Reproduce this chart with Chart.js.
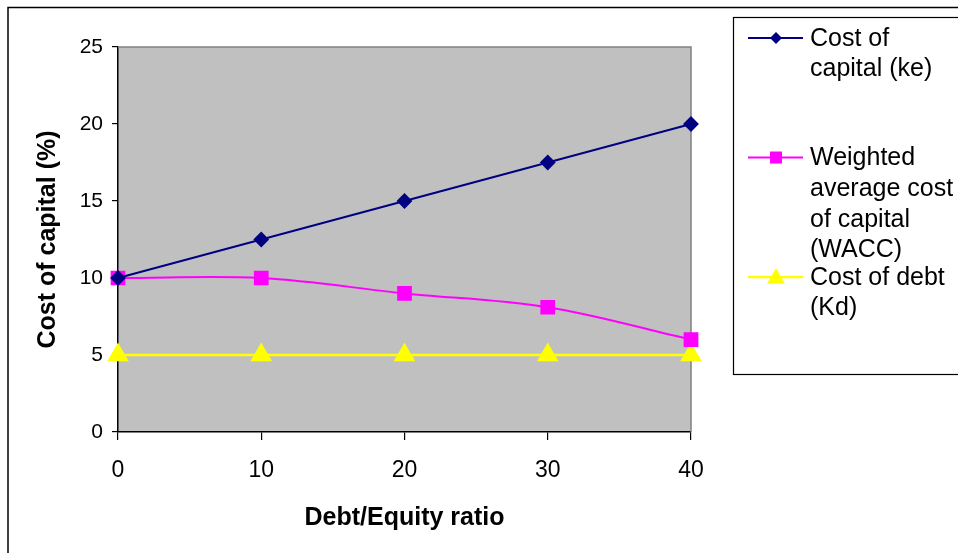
<!DOCTYPE html>
<html lang="en">
<head>
    <meta charset="UTF-8">
    <title>Cost of capital vs Debt/Equity ratio</title>
    <style>
        html, body { margin: 0; padding: 0; background: #fff; }
        #wrap { width: 958px; height: 553px; position: relative; }
    </style>
    <script src="https://cdn.jsdelivr.net/npm/chart.js"></script>
</head>
<body>
    <div id="wrap">
        <canvas id="wacc" width="958" height="553"></canvas>
    </div>

    <script>
        // Data
        const debtEquity = [0, 10, 20, 30, 40];
        const costOfEquity = [10, 12.5, 15, 17.5, 20];
        const wacc = [10, 10, 9, 8.1, 6];
        const costOfDebt = [5, 5, 5, 5, 5];
        const yTicks = [0, 5, 10, 15, 20, 25];
        const xTicks = [0, 10, 20, 30, 40];

        const seriesNames = [
            ['Cost of', 'capital (ke)'],
            ['Weighted', 'average cost', 'of capital', '(WACC)'],
            ['Cost of debt', '(Kd)']
        ];

        const FONT = 'Arial, "Liberation Sans", sans-serif';

        function toPoints(ys) {
            return debtEquity.map((x, i) => ({ x: x, y: ys[i] }));
        }

        // Grey plot area, outer frame and the boxed legend on the right
        const excelLook = {
            id: 'excelLook',
            beforeDraw(chart) {
                const { ctx, chartArea: a } = chart;
                ctx.save();
                ctx.fillStyle = '#fff';
                ctx.fillRect(0, 0, chart.width, chart.height);
                ctx.fillStyle = '#C0C0C0';
                ctx.fillRect(a.left, a.top, a.right - a.left, a.bottom - a.top);
                ctx.strokeStyle = '#000';
                ctx.lineWidth = 1.5;
                ctx.strokeRect(8, 7.5, chart.width + 20, chart.height + 20);
                ctx.restore();
            },
            beforeDatasetsDraw(chart) {
                const { ctx, chartArea: a } = chart;
                ctx.save();
                ctx.strokeStyle = '#808080';
                ctx.lineWidth = 1.5;
                ctx.beginPath();
                ctx.moveTo(a.left, a.top);
                ctx.lineTo(a.right, a.top);
                ctx.lineTo(a.right, a.bottom);
                ctx.stroke();
                ctx.restore();
            },
            afterDraw(chart) {
                const { ctx } = chart;
                const box = { left: 733.5, top: 17.5, bottom: 374.5 };
                ctx.save();
                ctx.fillStyle = '#fff';
                ctx.fillRect(box.left, box.top, chart.width, box.bottom - box.top);
                ctx.strokeStyle = '#000';
                ctx.lineWidth = 1.2;
                ctx.strokeRect(box.left, box.top, chart.width, box.bottom - box.top);

                const lineH = 30.6;
                const slot = 119.5;
                ctx.font = '25px ' + FONT;
                ctx.textBaseline = 'middle';
                chart.data.datasets.forEach((ds, i) => {
                    const y = 38 + i * slot;
                    ctx.strokeStyle = ds.borderColor;
                    ctx.lineWidth = ds.borderWidth;
                    ctx.beginPath();
                    ctx.moveTo(748, y);
                    ctx.lineTo(803, y);
                    ctx.stroke();
                    drawMarker(ctx, ds.pointStyle, 776, y, ds.legendRadius, ds.pointBackgroundColor);
                    ctx.fillStyle = '#000';
                    seriesNames[i].forEach((t, j) => ctx.fillText(t, 810, y + 1 + j * lineH));
                });
                ctx.restore();
            }
        };

        function drawMarker(ctx, style, x, y, r, color) {
            ctx.fillStyle = color;
            ctx.beginPath();
            if (style === 'rectRot') {
                ctx.moveTo(x, y - r); ctx.lineTo(x + r, y); ctx.lineTo(x, y + r); ctx.lineTo(x - r, y);
            } else if (style === 'rect') {
                ctx.rect(x - r * 0.75, y - r * 0.75, r * 1.5, r * 1.5);
            } else {
                ctx.moveTo(x, y - r); ctx.lineTo(x + r, y + r * 0.75); ctx.lineTo(x - r, y + r * 0.75);
            }
            ctx.closePath();
            ctx.fill();
        }

        new Chart(document.getElementById('wacc'), {
            type: 'line',
            data: {
                datasets: [
                    {
                        label: 'Cost of capital (ke)',
                        data: toPoints(costOfEquity),
                        borderColor: '#000080',
                        backgroundColor: '#000080',
                        pointBackgroundColor: '#000080',
                        pointBorderColor: '#000080',
                        borderWidth: 2,
                        pointStyle: 'rectRot',
                        pointRadius: 6.5,
                        legendRadius: 6,
                        tension: 0,
                        clip: false
                    },
                    {
                        label: 'Weighted average cost of capital (WACC)',
                        data: toPoints(wacc),
                        borderColor: '#FF00FF',
                        backgroundColor: '#FF00FF',
                        pointBackgroundColor: '#FF00FF',
                        pointBorderColor: '#FF00FF',
                        borderWidth: 2,
                        pointStyle: 'rect',
                        pointRadius: 9,
                        legendRadius: 8,
                        tension: 0.35,
                        clip: false
                    },
                    {
                        label: 'Cost of debt (Kd)',
                        data: toPoints(costOfDebt),
                        borderColor: '#FFFF00',
                        backgroundColor: '#FFFF00',
                        pointBackgroundColor: '#FFFF00',
                        pointBorderColor: '#FFFF00',
                        borderWidth: 2.5,
                        pointStyle: 'triangle',
                        pointRadius: 10,
                        legendRadius: 9,
                        tension: 0,
                        clip: false
                    }
                ]
            },
            options: {
                responsive: false,
                animation: false,
                devicePixelRatio: 1,
                layout: { padding: { left: 0, top: 47, right: 267, bottom: 0 } },
                plugins: {
                    legend: { display: false },
                    tooltip: { enabled: false }
                },
                elements: { point: { borderWidth: 0, hoverRadius: 0 } },
                scales: {
                    x: {
                        type: 'linear',
                        min: 0,
                        max: 40,
                        afterFit(scale) { scale.height = 121; },
                        afterBuildTicks(scale) { scale.ticks = xTicks.map(v => ({ value: v })); },
                        border: { display: true, color: '#000', width: 1.5 },
                        grid: { drawOnChartArea: false, tickLength: 8, color: '#000', lineWidth: 1.2 },
                        ticks: { color: '#000', padding: 17, font: { family: FONT, size: 23 } },
                        title: {
                            display: true,
                            text: 'Debt/Equity ratio',
                            color: '#000',
                            font: { family: FONT, size: 25, weight: 'bold' },
                            padding: { top: 0, bottom: 20 }
                        }
                    },
                    y: {
                        min: 0,
                        max: 25,
                        afterFit(scale) { scale.width = 118; },
                        afterBuildTicks(scale) { scale.ticks = yTicks.map(v => ({ value: v })); },
                        border: { display: true, color: '#000', width: 1.5 },
                        grid: { drawOnChartArea: false, tickLength: 6, color: '#000', lineWidth: 1.2 },
                        ticks: { color: '#000', padding: 9, font: { family: FONT, size: 21 } },
                        title: {
                            display: true,
                            text: 'Cost of capital (%)',
                            color: '#000',
                            font: { family: FONT, size: 25, weight: 'bold' },
                            padding: { top: 33.5, bottom: 0 }
                        }
                    }
                }
            },
            plugins: [excelLook]
        });
    </script>
</body>
</html>
